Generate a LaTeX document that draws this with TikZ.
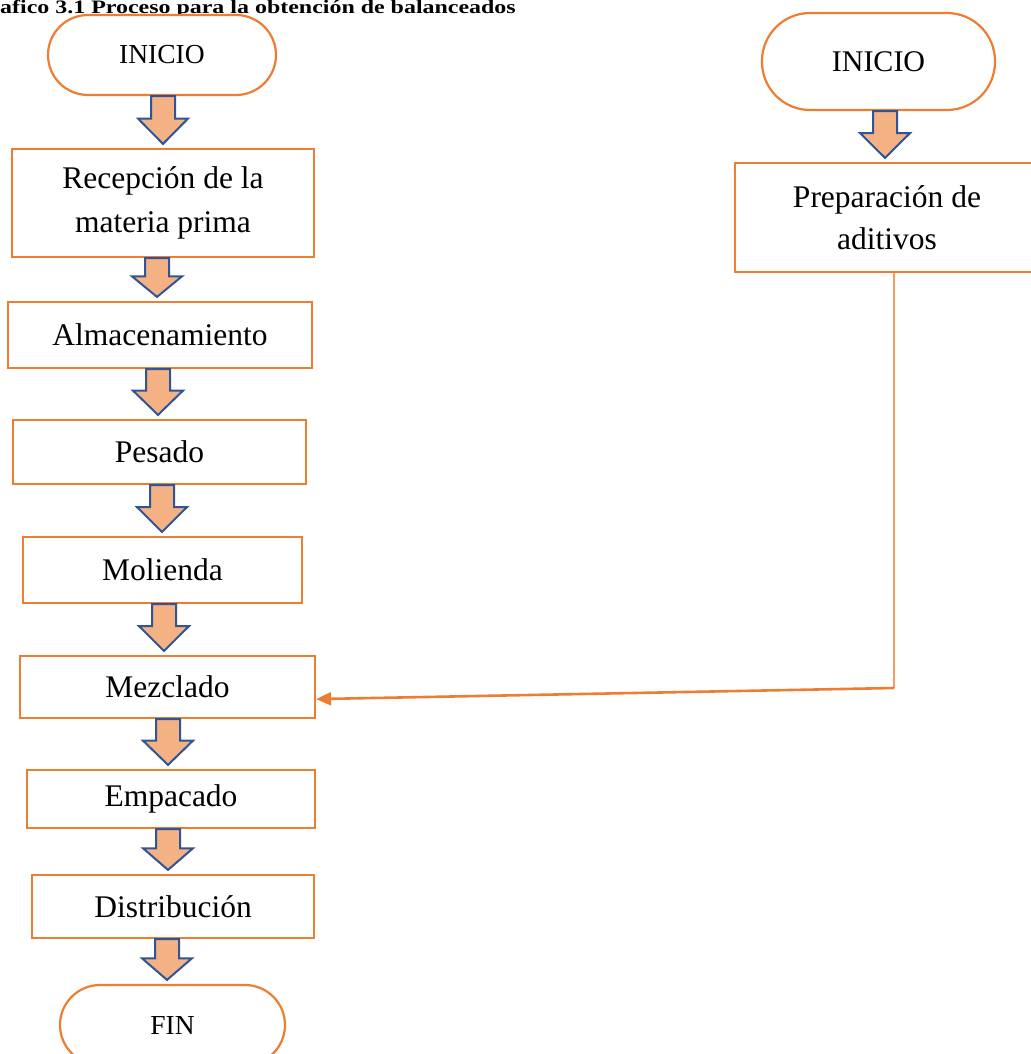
\documentclass[tikz,border=0pt]{standalone}
\usepackage{fontspec}
\setmainfont{Liberation Serif}
\usetikzlibrary{arrows.meta,calc}
\definecolor{boxorange}{HTML}{ED7D31}
\definecolor{arrfill}{HTML}{F4B183}
\definecolor{arrline}{HTML}{2F5597}
\tikzset{
  procbox/.style={draw=boxorange,line width=2.2pt,fill=white,align=center,inner sep=0pt,
    font=\fontsize{31.5}{44}\selectfont},
  termbox/.style={draw=boxorange,line width=2.2pt,fill=white,align=center,inner sep=0pt},
  bigarrow/.style={draw=arrline,fill=arrfill,line width=2pt,line join=miter},
  connthin/.style={draw=boxorange!75,line width=1.5pt},
  connthick/.style={draw=boxorange,line width=2.6pt,-{Triangle[length=15pt,width=13pt]}},
}
\newcommand\blockarr[3]{%
  \path[bigarrow] let \p1=(#1.south), \p2=(#2.north),
     \n1={\y2+4pt}, \n2={\y1+0.47*(\y2+4pt-\y1)} in
   (#3pt-12pt,\y1) -- (#3pt+12pt,\y1) -- (#3pt+12pt,\n2) -- (#3pt+25pt,\n2)
   -- (#3pt,\n1) -- (#3pt-25pt,\n2) -- (#3pt-12pt,\n2) -- cycle;}
\begin{document}
\begin{tikzpicture}[x=1pt,y=-1pt]
\useasboundingbox (0,0) rectangle (1030,1054);
\node[anchor=base west,inner sep=0pt,font=\bfseries\fontsize{19}{19}\selectfont] (title) at (0,14)
  {\scalebox{1.26}[1]{afico 3.1 Proceso para la obtención de balanceados}};
% left column
\node[termbox,rounded corners=40pt,minimum width=228pt,minimum height=80pt,
  font=\fontsize{27.5}{30}\selectfont] (ini1) at (162,55) {INICIO};
\node[procbox,minimum width=302pt,minimum height=108pt] (rec) at (163,203) {Recepción de la\\materia prima};
\node[procbox,minimum width=304pt,minimum height=66pt] (alm) at (160,335) {Almacenamiento};
\node[procbox,minimum width=293pt,minimum height=64pt] (pes) at (159.5,452) {Pesado};
\node[procbox,minimum width=279pt,minimum height=66pt] (mol) at (162.5,570) {Molienda};
\node[procbox,minimum width=295pt,minimum height=62pt] (mez) at (167.5,687) {Mezclado};
\node[procbox,minimum width=288pt,minimum height=58pt] (emp) at (171,799) {Empacado};
\node[procbox,minimum width=282pt,minimum height=63pt] (dis) at (173,906.5) {Distribución};
\node[termbox,rounded corners=40pt,minimum width=225pt,minimum height=80pt,
  font=\fontsize{27.5}{30}\selectfont] (fin) at (172.5,1025) {FIN};
% right column
\node[termbox,rounded corners=48pt,minimum width=233pt,minimum height=97pt,
  font=\fontsize{30}{30}\selectfont] (ini2) at (878.5,61.5) {INICIO};
\node[procbox,minimum width=304pt,minimum height=109pt,
  font=\fontsize{31.5}{42}\selectfont] (prep) at (887,217.5) {Preparación de\\aditivos};
% block arrows
\blockarr{ini1}{rec}{163}
\blockarr{rec}{alm}{157}
\blockarr{alm}{pes}{158}
\blockarr{pes}{mol}{162}
\blockarr{mol}{mez}{164}
\blockarr{mez}{emp}{168}
\blockarr{emp}{dis}{168}
\blockarr{dis}{fin}{167}
\blockarr{ini2}{prep}{885}
% connector
\coordinate (corner) at (894,688);
\draw[connthin] (prep.south -| corner) -- (corner);
\draw[connthick] (corner) -- ($(mez.south east)+(0,-20)$);
\end{tikzpicture}
\end{document}
